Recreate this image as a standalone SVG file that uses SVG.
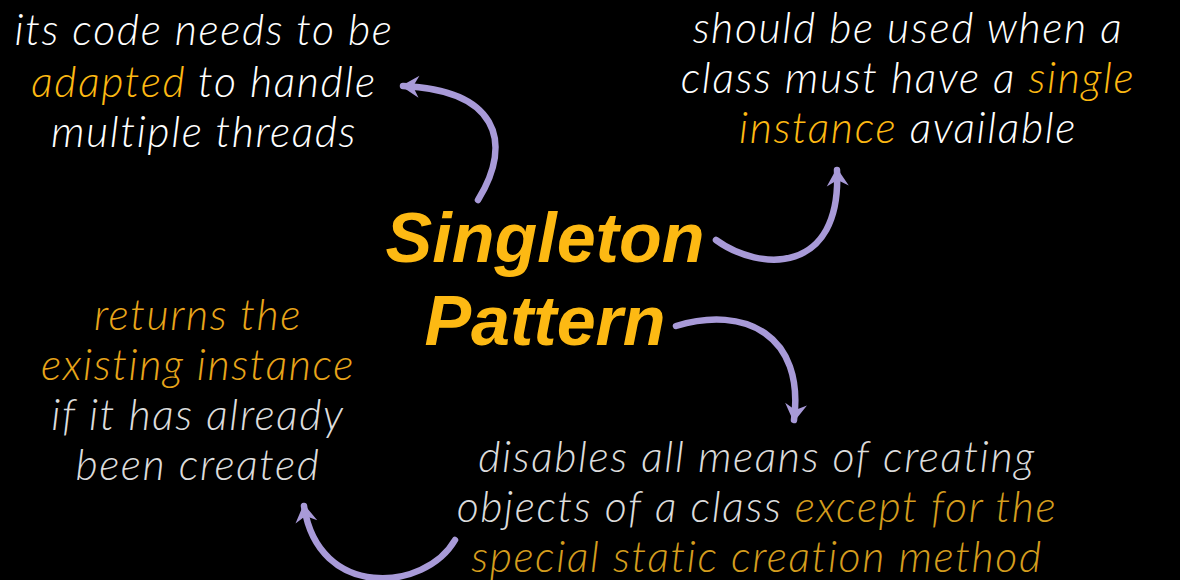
<svg xmlns="http://www.w3.org/2000/svg" width="1180" height="580" viewBox="0 0 1180 580">
<style>
.t{font-family:Lato,"Open Sans","Liberation Sans",sans-serif;font-style:italic;font-weight:300;font-size:43px;letter-spacing:1.6px;text-anchor:middle}
.w{fill:#ffffff}
.g{fill:#dcdcdc}
.y{fill:#fdb913}
.o{fill:#e8a51a}
.od{fill:#d49d1e}
.title{font-family:"Liberation Sans",Arial,sans-serif;font-style:italic;font-weight:700;font-size:70px;text-anchor:middle;fill:#fdb913}
.arr{fill:none;stroke:#a89ad8;stroke-width:6.5;stroke-linecap:round;marker-end:url(#ah)}
</style>
<defs>
<marker id="ah" viewBox="-20 -14 24 28" refX="0" refY="0" markerWidth="24" markerHeight="28" markerUnits="userSpaceOnUse" orient="auto">
<path d="M2,0 L-16,-11 L-10,0 L-16,11 Z" fill="#a89ad8"/>
</marker>
</defs>
<rect width="1180" height="580" fill="#000"/>
<g id="connectors">
<path class="arr" d="M478 200 C515 140 495 90 403 86"/>
<path class="arr" d="M716 240 C760 272 842 275 837 170"/>
<path class="arr" d="M676 326 C745 305 805 335 794 420"/>
<path class="arr" d="M455 540 C425 592 318 600 304 506"/>
</g>
<g id="title">
<text class="title" x="545" y="262">Singleton</text>
<text class="title" x="545" y="345">Pattern</text>
</g>
<g id="node-threads">
<text class="t w" x="204" y="45">its code needs to be</text>
<text class="t w" x="204" y="97"><tspan class="y">adapted</tspan> to handle</text>
<text class="t w" x="204" y="147">multiple threads</text>
</g>
<g id="node-single">
<text class="t w" x="908" y="43">should be used when a</text>
<text class="t w" x="908" y="93">class must have a <tspan class="y">single</tspan></text>
<text class="t w" x="908" y="143"><tspan class="y">instance</tspan> available</text>
</g>
<g id="node-returns">
<text class="t o" x="198" y="330">returns the</text>
<text class="t o" x="198" y="380">existing instance</text>
<text class="t g" x="198" y="430">if it has already</text>
<text class="t g" x="198" y="480">been created</text>
</g>
<g id="node-disables">
<text class="t g" x="757" y="472">disables all means of creating</text>
<text class="t g" x="757" y="522">objects of a class <tspan class="od">except for the</tspan></text>
<text class="t od" x="757" y="572">special static creation method</text>
</g>
</svg>
